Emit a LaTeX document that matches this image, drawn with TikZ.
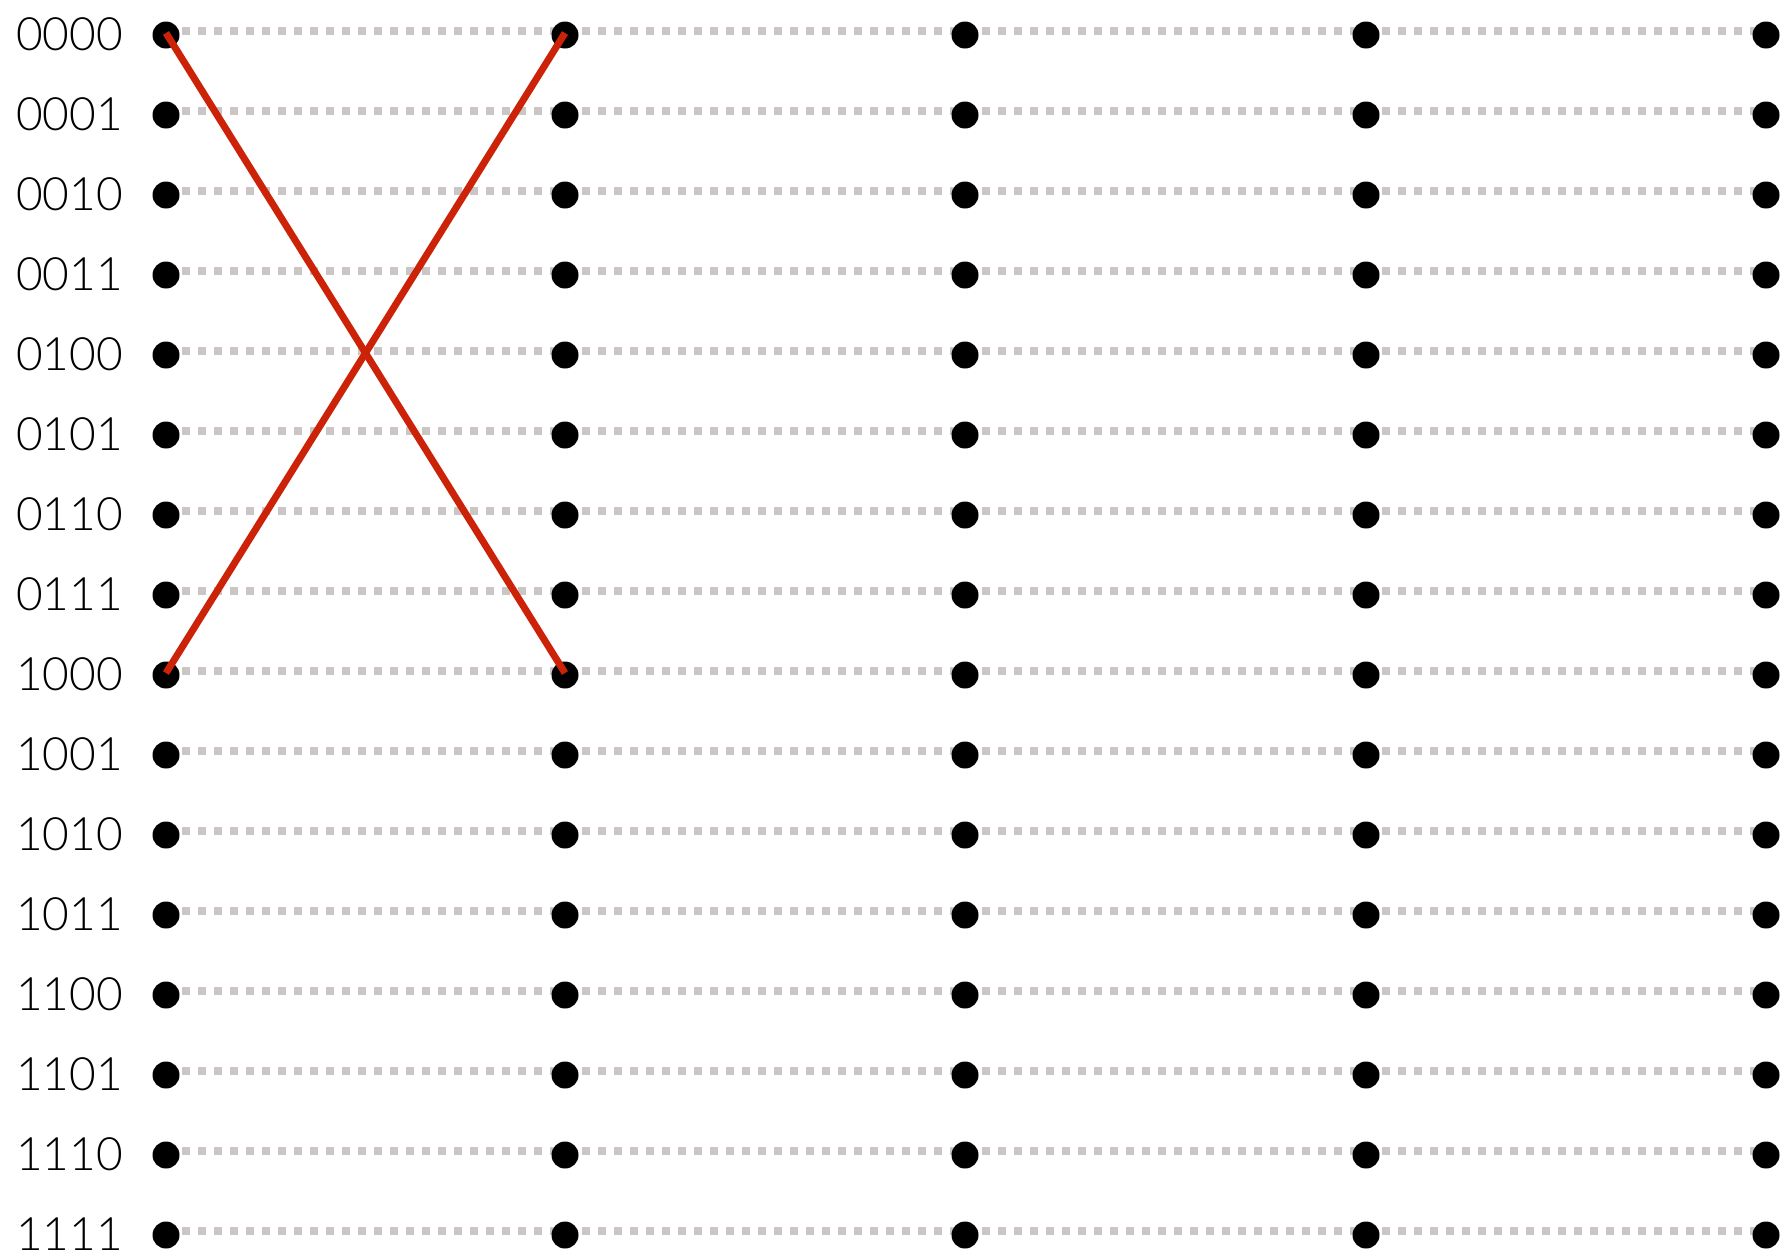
\documentclass[tikz,border=0pt]{standalone}
\usepackage{fontspec}
\setmainfont{Lato Light}[Numbers=Monospaced]
\definecolor{dotgray}{HTML}{CCC5C5}
\definecolor{xred}{HTML}{CC2308}
\begin{document}
\begin{tikzpicture}[x=1pt,y=-1pt,
  vdot/.style={circle,fill=black,inner sep=0pt,minimum size=27pt},
  rowline/.style={draw=dotgray,line width=8pt,dash pattern=on 8pt off 8pt},
  cross/.style={draw=xred,line width=7pt},
  lbl/.style={anchor=east,inner sep=0pt,font=\fontsize{46}{50}\selectfont}]
\useasboundingbox (0,0) rectangle (1782,1254);
\def\colx{{166,565,965,1366,1766}}
\foreach \r [count=\i from 0] in {0000,0001,0010,0011,0100,0101,0110,0111,1000,1001,1010,1011,1100,1101,1110,1111}{
  \pgfmathsetmacro{\yy}{35+80*\i}
  \foreach \c in {1,...,5}{
    \pgfmathsetmacro{\xx}{\colx[\c-1]}
    \coordinate (p-\i-\c) at (\xx,\yy);
  }
  \node[lbl] (l-\i) at (123,\yy-1) {\r};
  \draw[rowline] ([yshift=4pt]p-\i-1) -- ([yshift=4pt]p-\i-5);
  \foreach \c in {1,...,5}{
    \node[vdot] (d-\i-\c) at (p-\i-\c) {};
  }
}
\draw[cross] ([yshift=2pt]d-0-1.center) -- ([yshift=2pt]d-8-2.center);
\draw[cross] ([yshift=2pt]d-8-1.center) -- ([yshift=2pt]d-0-2.center);
\end{tikzpicture}
\end{document}
